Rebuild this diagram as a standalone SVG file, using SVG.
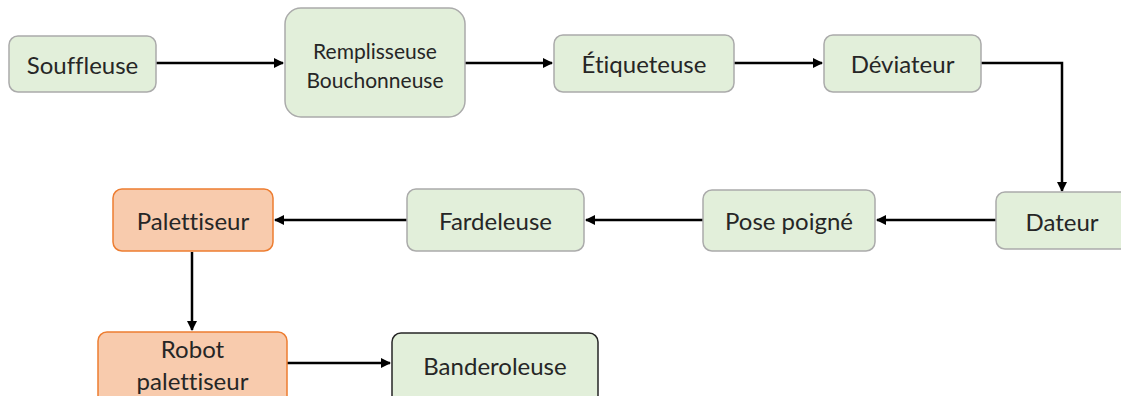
<svg xmlns="http://www.w3.org/2000/svg" width="1121" height="396" viewBox="0 0 1121 396">
<style>
.g{fill:#E2EFDA;stroke:#ABABAB;stroke-width:1.5}
.o{fill:#F8CBAD;stroke:#ED7D31;stroke-width:1.5}
.d{fill:#E2EFDA;stroke:#262626;stroke-width:1.5}
.t{font-family:Lato,"Liberation Sans",sans-serif;font-size:24px;fill:#262626;text-anchor:middle;dominant-baseline:central;font-variant-ligatures:none}
.s{font-size:21px}
.c{fill:none;stroke:#000;stroke-width:2.5}
</style>
<defs>
<marker id="ah" viewBox="0 0 10 10" refX="9" refY="5" markerWidth="4" markerHeight="4" orient="auto" markerUnits="strokeWidth">
<path d="M0,0 L10,5 L0,10 z" fill="#000"/>
</marker>
</defs>
<rect width="1121" height="396" fill="#fff"/>
<g id="connectors">
<path class="c" d="M156,63 H283" marker-end="url(#ah)"/>
<path class="c" d="M465,63 H552" marker-end="url(#ah)"/>
<path class="c" d="M734,63 H822" marker-end="url(#ah)"/>
<path class="c" d="M981,63 H1062 V191" marker-end="url(#ah)"/>
<path class="c" d="M996,220 H877" marker-end="url(#ah)"/>
<path class="c" d="M703,220 H586" marker-end="url(#ah)"/>
<path class="c" d="M407,220 H275" marker-end="url(#ah)"/>
<path class="c" d="M192,252 V330" marker-end="url(#ah)"/>
<path class="c" d="M287,363 H390" marker-end="url(#ah)"/>
</g>
<g id="souffleuse"><rect class="g" x="9" y="36" width="147" height="56" rx="9"/><text class="t" x="82.5" y="64">Souffleuse</text></g>
<g id="remplisseuse"><rect class="g" x="285" y="8" width="180" height="109" rx="16"/><text class="t s" x="375" y="50">Remplisseuse</text><text class="t s" x="375" y="79">Bouchonneuse</text></g>
<g id="etiqueteuse"><rect class="g" x="554" y="35" width="180" height="57" rx="9"/><text class="t" x="644" y="63">Étiqueteuse</text></g>
<g id="deviateur"><rect class="g" x="824" y="35" width="157" height="57" rx="9"/><text class="t" x="902.5" y="63">Déviateur</text></g>
<g id="dateur"><rect class="g" x="996" y="192" width="135" height="57" rx="9"/><text class="t" x="1062" y="221">Dateur</text></g>
<g id="pose-poigne"><rect class="g" x="703" y="190" width="172" height="61" rx="9"/><text class="t" x="789" y="220">Pose poigné</text></g>
<g id="fardeleuse"><rect class="g" x="407" y="189" width="177" height="62" rx="9"/><text class="t" x="495.5" y="220">Fardeleuse</text></g>
<g id="palettiseur"><rect class="o" x="113" y="189" width="160" height="62" rx="9"/><text class="t" x="193" y="220">Palettiseur</text></g>
<g id="robot-palettiseur"><rect class="o" x="98" y="332" width="189" height="80" rx="9"/><text class="t" x="192.5" y="348">Robot</text><text class="t" x="192.5" y="380">palettiseur</text></g>
<g id="banderoleuse"><rect class="d" x="392" y="333" width="206" height="80" rx="9"/><text class="t" x="495" y="365">Banderoleuse</text></g>
</svg>
